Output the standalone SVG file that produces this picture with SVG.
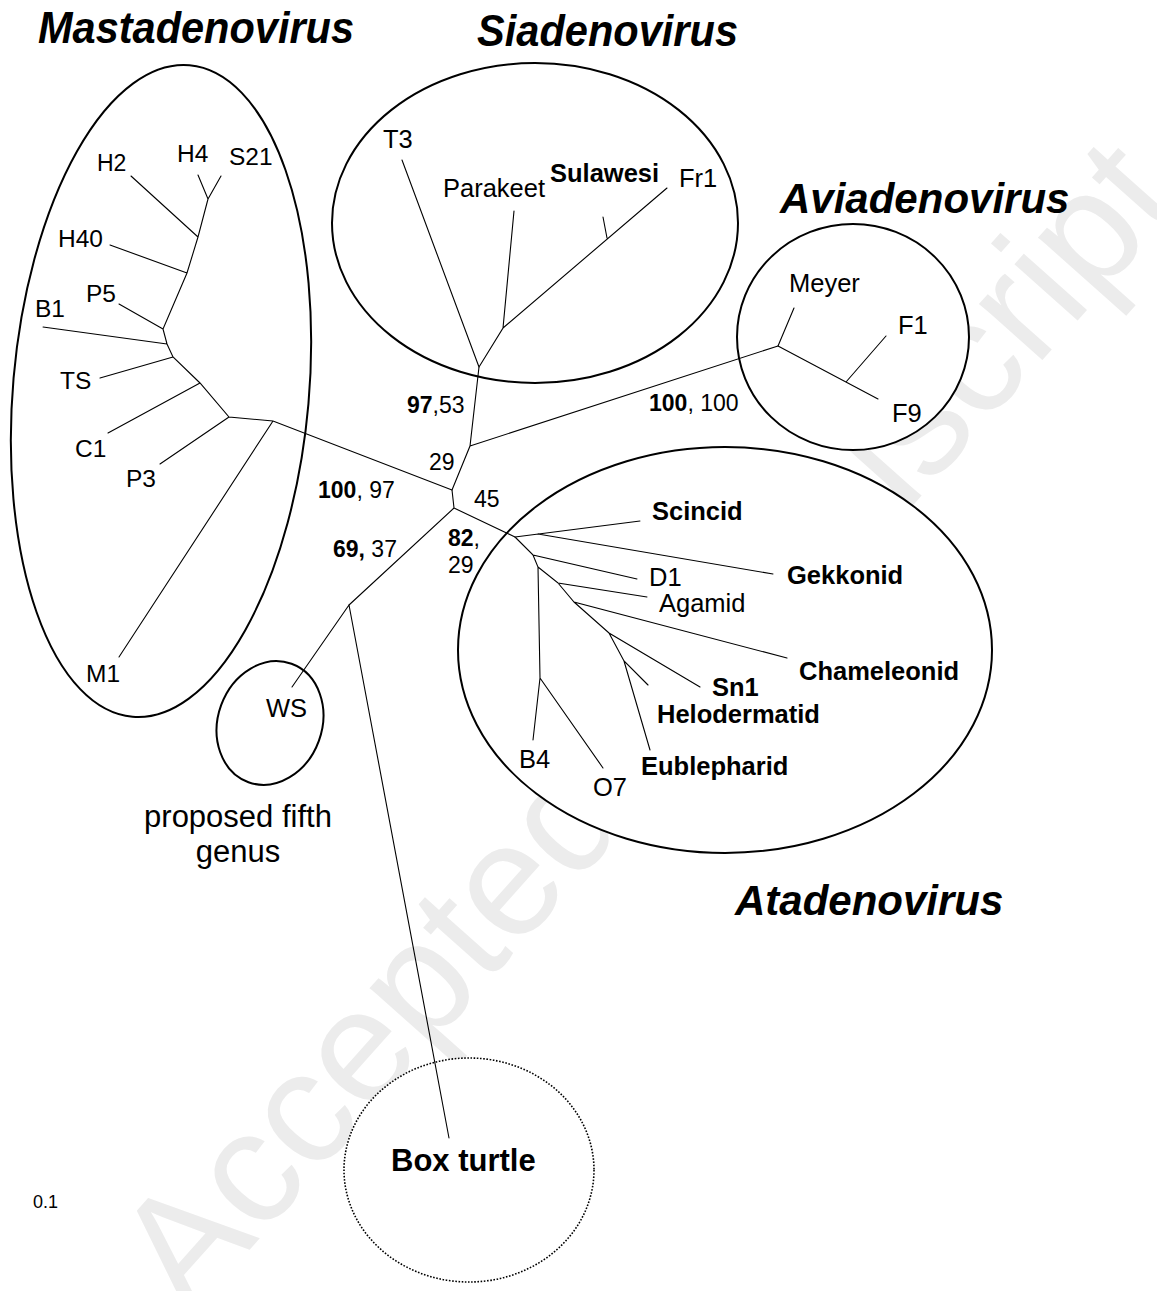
<svg xmlns="http://www.w3.org/2000/svg" width="1157" height="1291" viewBox="0 0 1157 1291">
<style>
.br{stroke:#000;stroke-width:1.1;fill:none;stroke-linecap:round}
.cl{stroke:#000;stroke-width:2;fill:#fff}
.dot{stroke:#000;stroke-width:1.6;fill:#fff;stroke-dasharray:1.6 1.6}
text{font-family:"Liberation Sans",Arial,Helvetica,sans-serif;fill:#000}
.lb{font-size:25.5px}
.ml{font-size:24.5px}
.b{font-weight:bold}
.num{font-size:23px}
.ttl{font-weight:bold;font-style:italic;font-size:42px}
.wm{font-size:160px;fill:#ececec}
</style>
<rect width="1157" height="1291" fill="#fff"/>
<text class="wm" x="686" y="760" text-anchor="middle" transform="rotate(-48.3 686 760)">Accepted Manuscript</text>

<g id="clade-mastadenovirus">
<ellipse class="cl" cx="161" cy="391" rx="148" ry="327" transform="rotate(5 161 391)"/>
<text class="ttl" x="38" y="43" textLength="316" lengthAdjust="spacingAndGlyphs" style="font-size:44px">Mastadenovirus</text>
</g>
<g id="clade-siadenovirus">
<ellipse class="cl" cx="535" cy="223" rx="203" ry="160"/>
<text class="ttl" x="477" y="46" textLength="261" lengthAdjust="spacingAndGlyphs" style="font-size:44px">Siadenovirus</text>
</g>
<g id="clade-aviadenovirus">
<ellipse class="cl" cx="853" cy="337" rx="116" ry="113"/>
<text class="ttl" x="780" y="213">Aviadenovirus</text>
</g>
<g id="clade-atadenovirus">
<ellipse class="cl" cx="725" cy="650" rx="267" ry="203"/>
<text class="ttl" x="735" y="915">Atadenovirus</text>
</g>
<g id="clade-fifth">
<ellipse class="cl" cx="270" cy="723" rx="52" ry="63" transform="rotate(20 270 723)"/>
<text class="lb" x="238" y="827" text-anchor="middle" style="font-size:31px">proposed fifth</text>
<text class="lb" x="238" y="862" text-anchor="middle" style="font-size:31px">genus</text>
</g>
<g id="clade-boxturtle">
<ellipse class="dot" cx="469" cy="1170" rx="125" ry="112"/>
</g>

<g id="connectors">
<path class="br" d="M198,175 L208,199 L221,176 M208,199 L198,237 L187,273 L163,329 L167,344 L173,357 L200,383 L229,417 L273,421 L452,490 M131,176 L198,237 M110,245 L187,273 M119,304 L163,329 M43,327 L167,344 M100,378 L173,357 M108,433 L200,383 M160,464 L229,417 M273,421 L119,657"/>
<path class="br" d="M452,490 L470,446 L479,367 M470,446 L778,346 M452,490 L454,508 L349,605 M454,508 L515,537"/>
<path class="br" d="M479,367 L402,160 M479,367 L503,328 L514,211 M503,328 L667,188 M607,238 L603,217"/>
<path class="br" d="M778,346 L794,308 M778,346 L878,399 M846,382 L886,336"/>
<path class="br" d="M349,605 L292,687 M349,605 L449,1138"/>
<path class="br" d="M515,537 L640,521 M538,534 L773,574 M515,537 L533,555 L637,579 M533,555 L538,567 L540,678 L533,740 M540,678 L603,768 M538,567 L558,583 L647,597 M558,583 L574,602 L787,658 M574,602 L609,633 L700,687 M609,633 L624,661 L648,685 M624,661 L650,750"/>
</g>

<g id="labels-mastadenovirus">
<g id="n-H2"><text class="lb" x="97" y="171" style="font-size:23px">H2</text></g>
<g id="n-H4"><text class="ml" x="177" y="162">H4</text></g>
<g id="n-S21"><text class="ml" x="229" y="165">S21</text></g>
<g id="n-H40"><text class="ml" x="58" y="247">H40</text></g>
<g id="n-P5"><text class="ml" x="86" y="302">P5</text></g>
<g id="n-B1"><text class="ml" x="35" y="317">B1</text></g>
<g id="n-TS"><text class="ml" x="60" y="389">TS</text></g>
<g id="n-C1"><text class="ml" x="75" y="457">C1</text></g>
<g id="n-P3"><text class="ml" x="126" y="487">P3</text></g>
<g id="n-M1"><text class="ml" x="86" y="682">M1</text></g>
</g>
<g id="labels-siadenovirus">
<g id="n-T3"><text class="lb" x="383" y="148">T3</text></g>
<g id="n-Parakeet"><text class="lb" x="443" y="197">Parakeet</text></g>
<g id="n-Sulawesi"><text class="lb b" x="550" y="182">Sulawesi</text></g>
<g id="n-Fr1"><text class="lb" x="679" y="187">Fr1</text></g>
</g>
<g id="labels-aviadenovirus">
<g id="n-Meyer"><text class="lb" x="789" y="292">Meyer</text></g>
<g id="n-F1"><text class="lb" x="898" y="334">F1</text></g>
<g id="n-F9"><text class="lb" x="892" y="422">F9</text></g>
</g>
<g id="labels-atadenovirus">
<g id="n-Scincid"><text class="lb b" x="652" y="520">Scincid</text></g>
<g id="n-Gekkonid"><text class="lb b" x="787" y="584">Gekkonid</text></g>
<g id="n-D1"><text class="lb" x="649" y="586">D1</text></g>
<g id="n-Agamid"><text class="lb" x="659" y="612">Agamid</text></g>
<g id="n-Chameleonid"><text class="lb b" x="799" y="680">Chameleonid</text></g>
<g id="n-Sn1"><text class="lb b" x="712" y="696">Sn1</text></g>
<g id="n-Helodermatid"><text class="lb b" x="657" y="723">Helodermatid</text></g>
<g id="n-Eublepharid"><text class="lb b" x="641" y="775">Eublepharid</text></g>
<g id="n-B4"><text class="lb" x="519" y="768">B4</text></g>
<g id="n-O7"><text class="lb" x="593" y="796">O7</text></g>
</g>
<g id="n-WS"><text class="lb" x="266" y="717">WS</text></g>
<g id="n-BoxTurtle"><text class="lb b" x="391" y="1171" style="font-size:31px">Box turtle</text></g>

<g id="support-values">
<text class="num" x="407" y="413"><tspan class="b">97</tspan>,53</text>
<text class="num" x="649" y="411"><tspan class="b">100</tspan>, 100</text>
<text class="num" x="429" y="470">29</text>
<text class="num" x="318" y="498"><tspan class="b">100</tspan>, 97</text>
<text class="num" x="474" y="507">45</text>
<text class="num" x="448" y="546"><tspan class="b">82</tspan>,</text>
<text class="num" x="448" y="573">29</text>
<text class="num" x="333" y="557"><tspan class="b">69,</tspan> 37</text>
</g>
<g id="scale"><text x="33" y="1208" style="font-size:18px">0.1</text></g>
</svg>
